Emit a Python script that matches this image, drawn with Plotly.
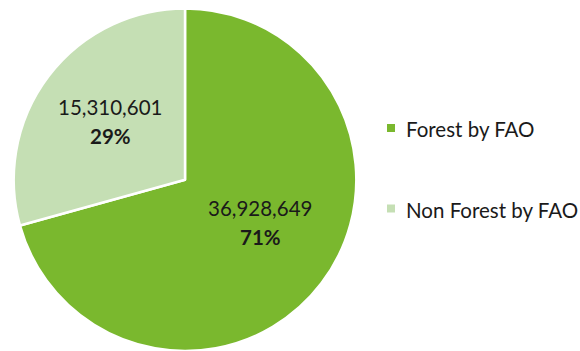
import plotly.graph_objects as go

# Land cover totals
categories = ["Forest by FAO", "Non Forest by FAO"]
areas = [36928649, 15310601]
colors = ["#7AB82E", "#C5DFB4"]

W, H = 580, 351
FONT = "Lato"
TEXT_COLOR = "#1A1A1A"

total = sum(areas)
shares = [round(100 * a / total) for a in areas]

fig = go.Figure(
    go.Pie(
        labels=categories,
        values=areas,
        sort=False,
        direction="clockwise",
        rotation=0,
        marker=dict(colors=colors, line=dict(color="white", width=2.5)),
        textinfo="none",
        hoverinfo="label+value+percent",
        showlegend=False,
        domain=dict(x=[0.0230, 0.6150], y=[0.0, 0.976]),
    )
)

# Slice labels (pixel positions converted to paper coords)
label_pos = [(260, 208, 237), (110, 106.5, 135.5)]
annotations = []
for (px, py_val, py_pct), a, s in zip(label_pos, areas, shares):
    annotations.append(dict(
        x=px / W, y=1 - py_val / H, xref="paper", yref="paper",
        text=f"{a:,}", showarrow=False, xanchor="center", yanchor="middle",
        font=dict(family=FONT, size=20.5, color=TEXT_COLOR),
    ))
    annotations.append(dict(
        x=px / W, y=1 - py_pct / H, xref="paper", yref="paper",
        text=f"<b>{s}%</b>", showarrow=False, xanchor="center", yanchor="middle",
        font=dict(family=FONT, size=20.5, color=TEXT_COLOR),
    ))

# Legend built from swatches and text
legend_rows = [128, 208.5]
shapes = []
for cy, name, c in zip(legend_rows, categories, colors):
    shapes.append(dict(
        type="rect", xref="paper", yref="paper",
        x0=387 / W, x1=395 / W, y0=1 - (cy + 4) / H, y1=1 - (cy - 4) / H,
        fillcolor=c, line=dict(width=0),
    ))
    annotations.append(dict(
        x=404 / W, y=1 - (cy + 1.5) / H, xref="paper", yref="paper",
        text=name, showarrow=False, xanchor="left", yanchor="middle",
        font=dict(family=FONT, size=20.5, color=TEXT_COLOR),
    ))

fig.update_layout(
    width=W, height=H,
    margin=dict(l=0, r=0, t=0, b=0),
    paper_bgcolor="white", plot_bgcolor="white",
    annotations=annotations, shapes=shapes,
)

fig.write_html("out.html")
